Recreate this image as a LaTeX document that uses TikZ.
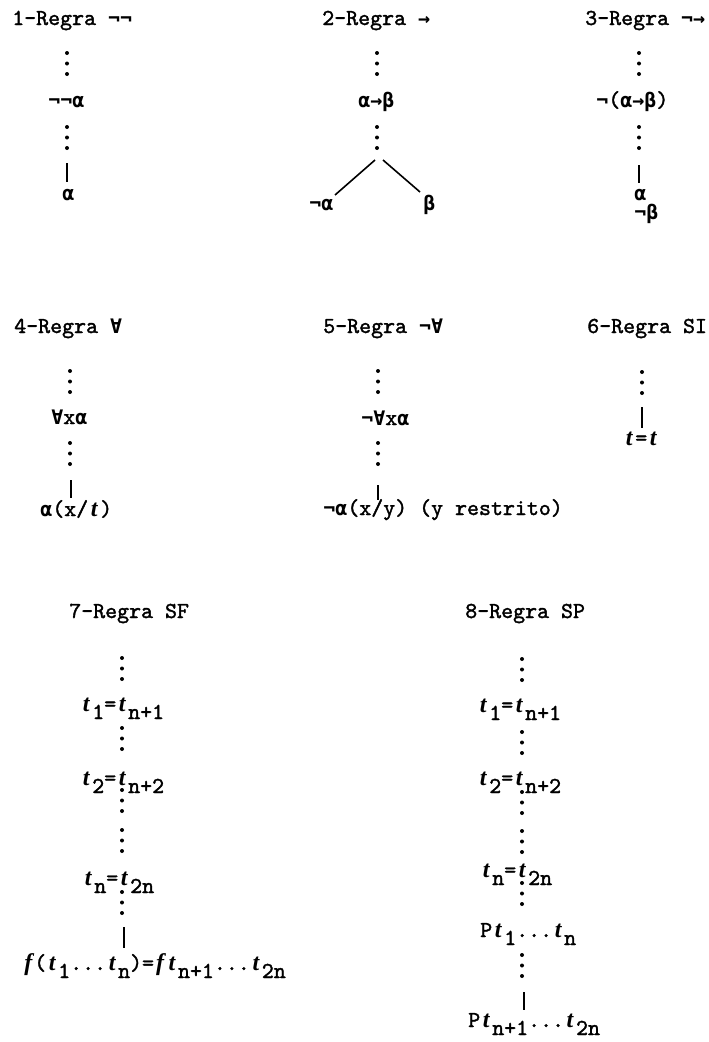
\documentclass[tikz,border=0pt]{standalone}
\usepackage{fontspec}
\newfontfamily\tw{lmmono10-regular}[Extension=.otf, AutoFakeBold=1.6]
\newfontfamily\dvm{DejaVu Sans Mono}
\newfontfamily\lsi{Liberation Serif}
\newcommand\symb[1]{{\dvm\bfseries\fontsize{15}{18}\selectfont #1}}
\newcommand\larr{\symb{→}}
\newcommand\lfa{\symb{∀}}
\newcommand\lneg{\symb{¬}}
\newcommand\lal{\symb{α}}
\newcommand\lbt{\symb{β}}
\newcommand\st{\makebox[9pt]{\lsi\bfseries\itshape\fontsize{18}{18}\selectfont t}}
\newcommand\scf{\makebox[9pt]{\lsi\bfseries\itshape\fontsize{18}{18}\selectfont f}}
\newcommand\lo[1]{\raisebox{-6pt}{#1}}
\newcommand\threedots[2]{\fill (#1,#2) circle[radius=1.5pt] (#1,#2+10.5) circle[radius=1.5pt] (#1,#2+21) circle[radius=1.5pt];}
\begin{document}
\begin{tikzpicture}[x=0.75pt,y=-0.75pt,
  txt/.style={anchor=base west, inner sep=0pt, font=\fontsize{17.1}{20}\selectfont\tw\bfseries},
  bar/.style={line width=1.4pt},
  branch/.style={line width=1.2pt}]
\useasboundingbox (0,0) rectangle (709,1042);
% ---------- Row 1 ----------
\node[txt] (t1) at (12,25) {1-Regra \lneg\lneg};
\node[txt] (t2) at (322,25) {2-Regra \larr};
\node[txt] (t3) at (585,25) {3-Regra \lneg\larr};
% rule 1
\threedots{67}{53}
\node[txt] (n1a) at (48,107) {\lneg\lneg\lal};
\threedots{67}{127}
\coordinate (l1a) at (67,163);
\coordinate (l1b) at (67,182);
\draw[bar] (l1a) -- (l1b);
\node[txt] (n1b) at (62,200) {\lal};
% rule 2
\threedots{377}{53}
\node[txt] (n2a) at (358,107) {\lal\larr\lbt};
\threedots{377}{127}
\coordinate (b2l) at (375,160);
\coordinate (b2r) at (383,160);
\node[txt] (n2b) at (309,210) {\lneg\lal};
\node[txt] (n2c) at (423,210) {\lbt};
\coordinate (e2l) at (335,195);
\coordinate (e2r) at (420,192);
\draw[branch] (b2l) -- (e2l);
\draw[branch] (b2r) -- (e2r);
% rule 3
\threedots{639}{53}
\node[txt] (n3a) at (596,107) {\lneg(\lal\larr\lbt)};
\threedots{639}{127}
\coordinate (l3a) at (639,165);
\coordinate (l3b) at (639,183);
\draw[bar] (l3a) -- (l3b);
\node[txt] (n3b) at (634,200) {\lal};
\node[txt] (n3c) at (634,219) {\lneg\lbt};
% ---------- Row 2 ----------
\node[txt] (t4) at (14,333) {4-Regra \lfa};
\node[txt] (t5) at (323,333) {5-Regra \lneg\lfa};
\node[txt] (t6) at (587,333) {6-Regra SI};
% rule 4
\threedots{70}{371}
\node[txt] (n4a) at (51,424) {\lfa x\lal};
\threedots{70}{443}
\coordinate (l4a) at (71,480);
\coordinate (l4b) at (71,498);
\draw[bar] (l4a) -- (l4b);
\node[txt] (n4b) at (40,516) {\lal(x/\st)};
% rule 5
\threedots{378}{371}
\node[txt] (n5a) at (361,425) {\lneg\lfa x\lal};
\threedots{378}{443}
\coordinate (l5a) at (378,485);
\coordinate (l5b) at (378,500);
\draw[bar] (l5a) -- (l5b);
\node[txt] (n5b) at (323,515) {\lneg\lal(x/y) (y restrito)};
% rule 6
\threedots{642}{372}
\coordinate (l6a) at (642,407);
\coordinate (l6b) at (642,428);
\draw[bar] (l6a) -- (l6b);
\node[txt] (n6a) at (623,445) {\st=\st};
% ---------- Row 3 ----------
\node[txt] (t7) at (69,618) {7-Regra SF};
\node[txt] (t8) at (465,618) {8-Regra SP};
% rule 7
\threedots{122}{658}
\node[txt] (n7a) at (80,711) {\st\lo{1}=\st\lo{n+1}};
\threedots{122}{728}
\node[txt] (n7b) at (80,785) {\st\lo{2}=\st\lo{n+2}};
\threedots{122}{790}
\threedots{122}{830}
\node[txt] (n7c) at (82,885) {\st\lo{n}=\st\lo{2n}};
\threedots{122}{892}
\coordinate (l7a) at (124,927);
\coordinate (l7b) at (124,948);
\draw[bar] (l7a) -- (l7b);
\node[txt] (n7d) at (22,970) {\scf(\st\lo{1}...\st\lo{n})=\scf\st\lo{n+1}...\st\lo{2n}};
% rule 8
\threedots{522}{659}
\node[txt] (n8a) at (477,712) {\st\lo{1}=\st\lo{n+1}};
\threedots{522}{732}
\node[txt] (n8b) at (477,785) {\st\lo{2}=\st\lo{n+2}};
\threedots{522}{792}
\threedots{522}{831}
\node[txt] (n8c) at (480,877) {\st\lo{n}=\st\lo{2n}};
\threedots{522}{883}
\node[txt] (n8d) at (480,937) {P\st\lo{1}...\st\lo{n}};
\threedots{522}{955}
\coordinate (l8a) at (524,992);
\coordinate (l8b) at (524,1010);
\draw[bar] (l8a) -- (l8b);
\node[txt] (n8e) at (468,1027) {P\st\lo{n+1}...\st\lo{2n}};
\end{tikzpicture}
\end{document}
